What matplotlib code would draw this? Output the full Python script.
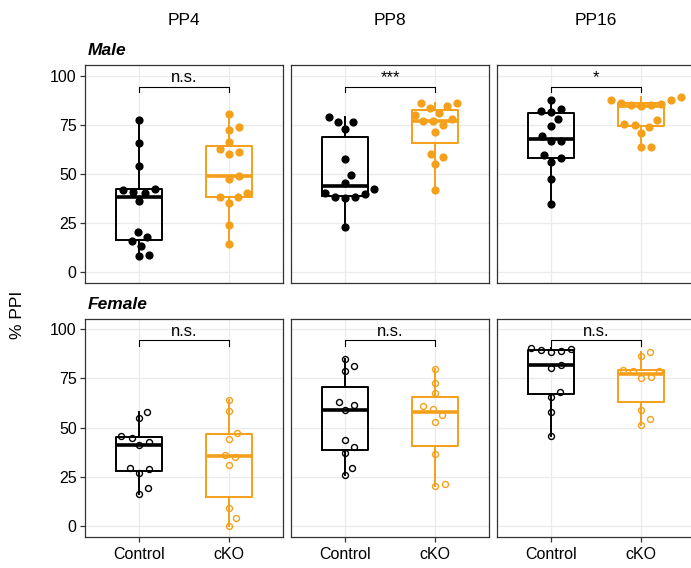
import numpy as np
import matplotlib
matplotlib.use('Agg')
import matplotlib.pyplot as plt

plt.rcParams['font.family'] = ['Liberation Sans', 'DejaVu Sans']

# ---- data ----
ages = ['PP4', 'PP8', 'PP16']
sexes = ['Male', 'Female']
groups = ['Control', 'cKO']

male_pp4_control = [77.2, 65.7, 54.3, 41.8, 40.4, 40.7, 42.4, 36.3, 20.4, 17.8, 15.8, 13.4, 8.7, 8.3]
male_pp4_cko = [80.5, 72.5, 73.9, 66.2, 60.1, 62.5, 61.0, 47.4, 49.1, 38.4, 40.4, 38.4, 35.5, 24.1, 14.3]
male_pp8_control = [79.1, 76.2, 76.4, 72.8, 57.4, 49.6, 45.2, 42.3, 38.4, 40.0, 40.4, 38.4, 37.9, 22.9]
male_pp8_cko = [84.6, 83.7, 86.1, 86.1, 80.0, 81.2, 76.9, 77.8, 76.9, 75.0, 71.6, 60.1, 58.6, 55.2, 42.1]
male_pp16_control = [87.4, 82.2, 81.7, 82.9, 77.9, 74.2, 66.7, 66.7, 69.1, 55.9, 59.8, 57.9, 47.4, 34.5]
male_pp16_cko = [87.6, 87.8, 89.1, 84.9, 84.9, 86.2, 85.6, 84.7, 73.9, 74.9, 77.2, 75.6, 70.8, 63.5, 63.5]
female_pp4_control = [58.0, 54.6, 45.6, 44.9, 42.5, 41.3, 26.9, 28.7, 29.4, 19.0, 16.2]
female_pp4_cko = [64.1, 58.3, 47.4, 44.2, 36.2, 35.2, 31.1, 9.2, 3.9, 0.0]
female_pp8_control = [84.7, 81.1, 78.7, 62.8, 61.2, 58.7, 43.9, 40.0, 37.2, 29.3, 25.7]
female_pp8_cko = [79.6, 72.8, 67.3, 60.7, 59.5, 56.6, 52.7, 36.7, 21.1, 20.4]
female_pp16_control = [90.5, 89.6, 88.8, 88.6, 90.1, 81.6, 80.1, 68.0, 65.6, 57.8, 45.9]
female_pp16_cko = [88.6, 86.1, 78.6, 78.9, 79.1, 75.5, 75.2, 59.0, 54.3, 51.4]

male_signif = ['n.s.', '***', '*']
female_signif = ['n.s.', 'n.s.', 'n.s.']

table = {
    ('Male', 'PP4'): (male_pp4_control, male_pp4_cko),
    ('Male', 'PP8'): (male_pp8_control, male_pp8_cko),
    ('Male', 'PP16'): (male_pp16_control, male_pp16_cko),
    ('Female', 'PP4'): (female_pp4_control, female_pp4_cko),
    ('Female', 'PP8'): (female_pp8_control, female_pp8_cko),
    ('Female', 'PP16'): (female_pp16_control, female_pp16_cko),
}
signif = {'Male': male_signif, 'Female': female_signif}

colors = ['#000000', '#F5A01A']
W, H = 691, 568


def swarm_x(ax, vals, center, d_px=10.3):
    # simple beeswarm: place points (lowest first) as close to the centre as possible
    pts = ax.transData.transform(np.column_stack([np.full(len(vals), center), vals]))
    cx = pts[0, 0]
    order = np.argsort(vals)
    placed = []
    xs = np.zeros(len(vals))
    for i in order:
        y = pts[i, 1]
        cands = [0.0]
        for px, py in placed:
            dy = y - py
            if abs(dy) < d_px:
                dx = np.sqrt(d_px ** 2 - dy ** 2)
                cands += [px - dx, px + dx]
        cands.sort(key=lambda c: (round(abs(c), 3), -c))
        for c in cands:
            if all((c - px) ** 2 + (y - py) ** 2 >= d_px ** 2 - 1e-6 for px, py in placed):
                break
        placed.append((c, y))
        xs[i] = ax.transData.inverted().transform((cx + c, y))[0]
    return xs


fig = plt.figure(figsize=(W / 100, H / 100), dpi=100)

col_left = [85, 291, 497]
row_top = [65, 318.5]
pw, ph = 198, 218

for r, sex in enumerate(sexes):
    for c, age in enumerate(ages):
        x0, y0 = col_left[c], row_top[r]
        ax = fig.add_axes([x0 / W, 1 - (y0 + ph) / H, pw / W, ph / H])
        ax.set_xlim(0.4, 2.6)
        ax.set_ylim(-5.4, 105.4)
        ax.set_yticks([0, 25, 50, 75, 100])
        ax.set_xticks([1, 2])
        ax.grid(True, color='#EBEBEB', lw=0.9)
        ax.set_axisbelow(True)
        for s in ax.spines.values():
            s.set_color('#333333')
            s.set_linewidth(0.9)

        data = table[(sex, age)]
        for g, vals in enumerate(data):
            col = colors[g]
            ax.boxplot([vals], positions=[g + 1], widths=0.52, showcaps=False,
                       showfliers=False, patch_artist=False,
                       boxprops=dict(color=col, lw=1.4),
                       whiskerprops=dict(color=col, lw=1.4),
                       medianprops=dict(color=col, lw=2.6),
                       manage_ticks=False)
        fig.canvas.draw()
        for g, vals in enumerate(data):
            col = colors[g]
            xs = swarm_x(ax, np.array(vals), g + 1)
            if sex == 'Male':
                ax.plot(xs, vals, 'o', ms=4.9, color=col, mec=col, zorder=5)
            else:
                ax.plot(xs, vals, 'o', ms=4.3, mfc='none', mec=col, mew=1.0, zorder=5)

        # significance bracket
        ax.plot([1, 1, 2, 2], [91.5, 94.4, 94.4, 91.5], color='black', lw=0.8, zorder=4)
        ax.text(1.5, 96.6, signif[sex][c], ha='center', va='baseline', fontsize=12)

        ax.tick_params(axis='both', color='#333333', width=0.9, length=3.5,
                       labelsize=11.5, labelcolor='black', pad=2.5)
        if c > 0:
            ax.tick_params(axis='y', left=False, labelleft=False)
        if r == 0:
            ax.tick_params(axis='x', bottom=False, labelbottom=False)
            ax.set_title(age, fontsize=12.5, pad=29)
        else:
            ax.set_xticklabels(groups)
            ax.tick_params(axis='x', pad=4)
        if c == 0:
            ax.text(0.015, 1.03, sex, transform=ax.transAxes, fontsize=12.5,
                    fontweight='bold', fontstyle='italic', ha='left', va='bottom')

fig.text(17.5 / W, 1 - 315 / H, '% PPI', rotation=90, ha='center', va='center', fontsize=12.5)

fig.savefig('out.png', dpi=100)
